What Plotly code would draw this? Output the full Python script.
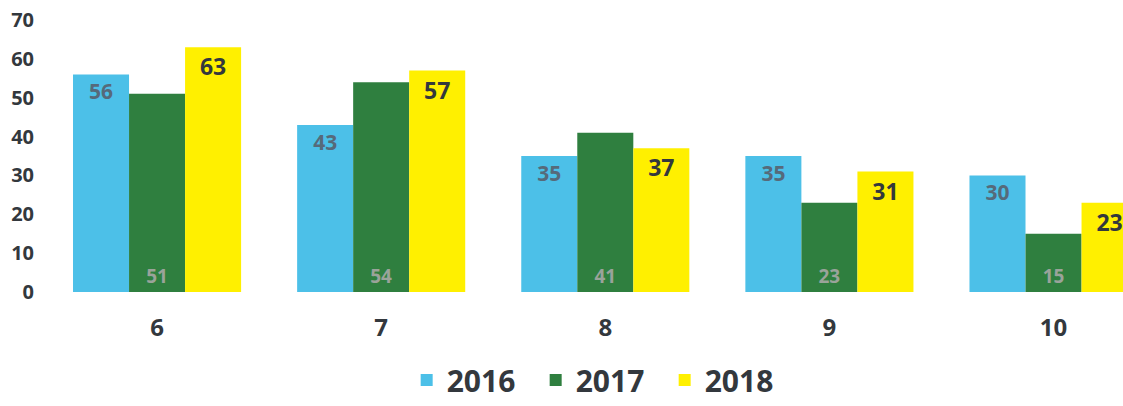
import plotly.graph_objects as go

grades = ["6", "7", "8", "9", "10"]
years = ["2016", "2017", "2018"]
values_2016 = [56, 43, 35, 35, 30]
values_2017 = [51, 54, 41, 23, 15]
values_2018 = [63, 57, 37, 31, 23]
y_ticks = [0, 10, 20, 30, 40, 50, 60, 70]

FONT = "Open Sans, Liberation Sans, Arial, sans-serif"
DARK = "#33383d"

series = [
    (years[0], values_2016, "#4cc0e8", "end", dict(size=21, color="#566a7a", family=FONT, weight="bold")),
    (years[1], values_2017, "#2f7f3f", "start", dict(size=19, color="#9aa39a", family=FONT, weight="bold")),
    (years[2], values_2018, "#fff000", "end", dict(size=23, color=DARK, family=FONT, weight="bold")),
]

fig = go.Figure()
for name, vals, color, anchor, tfont in series:
    fig.add_trace(go.Bar(
        x=grades, y=vals, name=name,
        marker=dict(color=color, line=dict(width=0)),
        text=[str(v) for v in vals],
        textposition="inside",
        insidetextanchor=anchor,
        textangle=0,
        constraintext="none",
        textfont=tfont,
    ))

fig.update_layout(
    width=1123, height=406,
    margin=dict(l=45, r=0, t=20, b=114, autoexpand=False),
    paper_bgcolor="white", plot_bgcolor="white",
    barmode="group", bargap=0.25, bargroupgap=0.0,
    font=dict(family=FONT, color=DARK),
    showlegend=True,
    legend=dict(
        orientation="h", x=0.515, xanchor="center",
        yref="container", y=0.0, yanchor="bottom",
        font=dict(size=30, color=DARK, family=FONT, weight="bold"),
        itemwidth=30, entrywidth=84, entrywidthmode="pixels", tracegroupgap=0,
    ),
    xaxis=dict(
        type="category", range=[-0.5, 4.31], automargin=False,
        showgrid=False, zeroline=False, showline=False, ticks="",
        tickfont=dict(size=24, color=DARK, family=FONT, weight="bold"),
        ticklabelstandoff=19,
    ),
    yaxis=dict(
        range=[0, 70], tickvals=y_ticks, automargin=False,
        showgrid=False, zeroline=False, showline=False, ticks="",
        tickfont=dict(size=20, color=DARK, family=FONT, weight="bold"),
        ticklabelstandoff=10,
    ),
)

fig.write_html("out.html")
